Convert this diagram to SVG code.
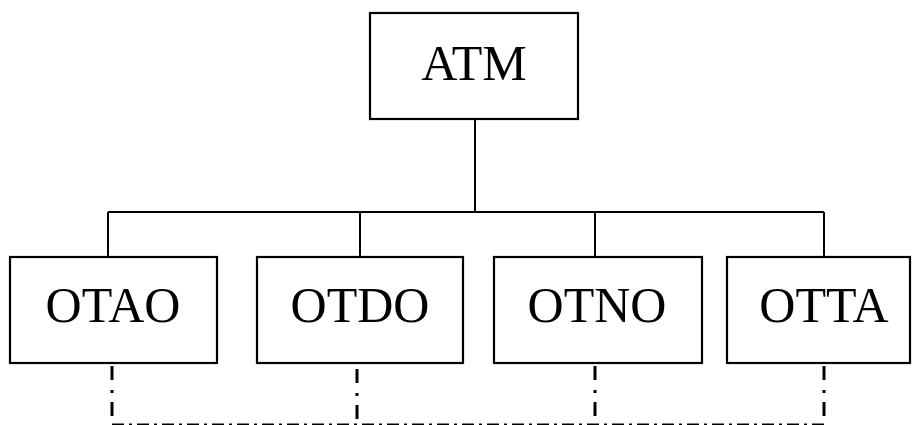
<svg xmlns="http://www.w3.org/2000/svg" width="912" height="425" viewBox="0 0 912 425">
<style>
.box{fill:#fff;stroke:#000;stroke-width:2.2}
.lbl{font-family:"Liberation Serif","Times New Roman",serif;font-size:50px;fill:#000;text-anchor:middle}
.solid{fill:none;stroke:#000;stroke-width:2}
.dd{fill:none;stroke:#000;stroke-width:3;stroke-dasharray:14,10,3,9}
.ddh{fill:none;stroke:#000;stroke-width:3;stroke-dasharray:12,5,3,5}
</style>
<rect width="912" height="425" fill="#fff"/>
<g id="connectors">
<path class="solid" d="M475 119 V212 M108 212 H824 M108 212 V257 M360 212 V257 M595 212 V257 M824 212 V257"/>
<path class="dd" d="M112 366 V420"/>
<path class="dd" d="M357 369 V425"/>
<path class="dd" d="M595 366 V420"/>
<path class="dd" d="M824 366 V420"/>
<path class="ddh" d="M112 425 H824"/>
</g>
<g id="ATM"><rect class="box" x="370" y="13" width="208" height="106"/><text class="lbl" x="474" y="80">ATM</text></g>
<g id="OTAO"><rect class="box" x="10" y="257" width="207" height="106"/><text class="lbl" x="113" y="322">OTAO</text></g>
<g id="OTDO"><rect class="box" x="257" y="257" width="206" height="106"/><text class="lbl" x="360" y="322">OTDO</text></g>
<g id="OTNO"><rect class="box" x="494" y="257" width="208" height="106"/><text class="lbl" x="597" y="322">OTNO</text></g>
<g id="OTTA"><rect class="box" x="727" y="257" width="183" height="106"/><text class="lbl" x="824" y="322">OTTA</text></g>
</svg>
